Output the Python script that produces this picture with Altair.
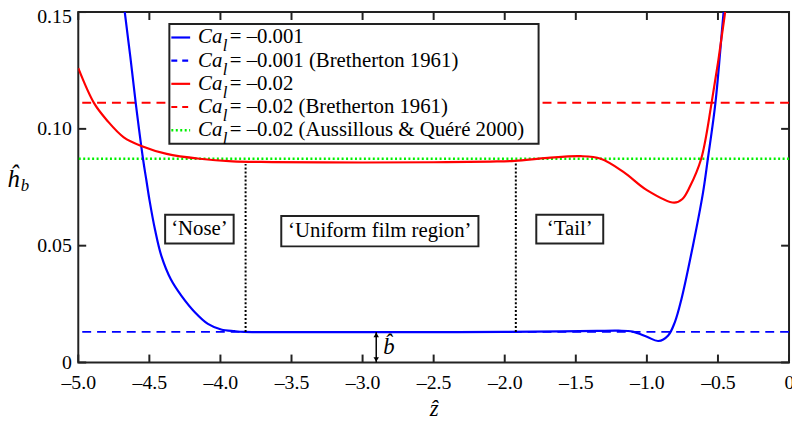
import altair as alt
import pandas as pd

FONT = "'Liberation Serif', 'Times New Roman', Times, serif"

# ---------------- data ----------------
blue_z = [-4.685, -4.673, -4.634, -4.596, -4.544, -4.521, -4.499, -4.460, -4.415, -4.349,
          -4.274, -4.180, -4.088, -3.995, -3.900, -3.832, -3.5, -3.0, -2.5, -2.0,
          -1.6, -1.35, -1.20, -1.10, -1.0, -0.919, -0.85, -0.803, -0.757, -0.676,
          -0.606, -0.571, -0.518, -0.46, -0.445]
blue_h = [0.157, 0.150, 0.1309, 0.1111, 0.0869, 0.0780, 0.0695, 0.0568, 0.0455, 0.0356,
          0.0285, 0.0215, 0.0165, 0.0141, 0.0134, 0.0131, 0.0130, 0.0130, 0.0130, 0.0131,
          0.0133, 0.0135, 0.0136, 0.0132, 0.0110, 0.0092, 0.0116, 0.0173, 0.0271, 0.050,
          0.0724, 0.0872, 0.111, 0.150, 0.158]

red_z = [-5.0, -4.889, -4.796, -4.68, -4.552, -4.378, -4.146, -3.914, -3.635, -3.0,
         -2.5, -2.1, -1.929, -1.697, -1.465, -1.325, -1.163, -1.0, -0.808, -0.75,
         -0.698, -0.618, -0.545, -0.455, -0.435]
red_h = [0.126, 0.111, 0.1035, 0.0964, 0.0926, 0.0893, 0.0872, 0.0861, 0.0858, 0.0856,
         0.0857, 0.0860, 0.0863, 0.0876, 0.0883, 0.0872, 0.0815, 0.0738, 0.0684, 0.0700,
         0.0752, 0.0872, 0.111, 0.1475, 0.158]

bretherton_001 = 0.0131
bretherton_02 = 0.1112
aussillous_02 = 0.0872

x_ticks = [-5.0, -4.5, -4.0, -3.5, -3.0, -2.5, -2.0, -1.5, -1.0, -0.5, 0.0]
y_ticks = [0.0, 0.05, 0.10, 0.15]

legend_rest = ["= \u20130.001", "= \u20130.001 (Bretherton 1961)", "= \u20130.02",
               "= \u20130.02 (Bretherton 1961)", "= \u20130.02 (Aussillous & Qu\u00e9r\u00e9 2000)"]

region_labels = ["\u2018Nose\u2019", "\u2018Uniform film region\u2019", "\u2018Tail\u2019"]
region_z = [-4.148, -2.879, -1.543]
region_h = [0.0572, 0.0563, 0.0572]
region_z1 = [-4.389, -3.572, -1.778]
region_z2 = [-3.907, -2.185, -1.307]
region_h1 = [0.0509, 0.0497, 0.0509]
region_h2 = [0.0632, 0.0627, 0.0632]

divider_z = [-3.823, -1.922]
divider_top = [0.0850, 0.0858]
arrow_z = -2.904

# ---------------- layout ----------------
W, H = 718, 354
XMIN, XMAX, YMIN, YMAX = -5.0, 0.0, 0.0, 0.15
px_x = (XMAX - XMIN) / W
px_y = (YMAX - YMIN) / H
TICK = 8

xs = alt.Scale(domain=[XMIN, XMAX], nice=False, zero=False)
ys = alt.Scale(domain=[YMIN, YMAX], nice=False, zero=False)

xaxis = alt.Axis(values=x_ticks, title="\u1e91", titleFontStyle="italic",
                 labelExpr="datum.value == 0 ? '0' : '\u2013' + format(abs(datum.value), '.1f')",
                 labelPadding=10, titlePadding=6, labelFlush=False)
yaxis = alt.Axis(values=y_ticks, title=None,
                 labelExpr="datum.value == 0 ? '0' : format(datum.value, '.2f')",
                 labelPadding=7, labelFlush=False,
                 labelOffset={"condition": {"test": "datum.value >= 0.149", "value": 5},
                              "value": 0})


def X(f):
    return alt.X(f, type="quantitative", scale=xs, axis=xaxis)


def Y(f):
    return alt.Y(f, type="quantitative", scale=ys, axis=yaxis)


one = pd.DataFrame({"a": [0]})
layers = []

# reference film thickness lines
hl = pd.DataFrame({"h": [bretherton_001, bretherton_02, aussillous_02],
                   "k": ["b", "r", "g"]})
layers.append(alt.Chart(hl[hl.k == "b"]).mark_rule(color="#0000ff", strokeWidth=2, strokeDash=[9, 6])
              .encode(y=Y("h")))
layers.append(alt.Chart(hl[hl.k == "r"]).mark_rule(color="#ff0000", strokeWidth=2, strokeDash=[9, 6])
              .encode(y=Y("h")))
layers.append(alt.Chart(hl[hl.k == "g"]).mark_rule(color="#00f000", strokeWidth=2.5, strokeDash=[2, 2.5])
              .encode(y=Y("h")))

# curves
bdf = pd.DataFrame({"z": blue_z, "h": blue_h})
rdf = pd.DataFrame({"z": red_z, "h": red_h})
layers.append(alt.Chart(bdf).mark_line(color="#0000ff", strokeWidth=2.2, interpolate="catmull-rom", clip=True)
              .encode(x=X("z"), y=Y("h")))
layers.append(alt.Chart(rdf).mark_line(color="#ff0000", strokeWidth=2.2, interpolate="catmull-rom", clip=True)
              .encode(x=X("z"), y=Y("h")))

# dotted dividers
dv = pd.DataFrame({"z": divider_z, "h0": [bretherton_001] * 2, "h1": divider_top})
layers.append(alt.Chart(dv).mark_rule(color="black", strokeWidth=2, strokeDash=[2, 2])
              .encode(x=X("z"), y=Y("h0"), y2="h1"))

# region boxes + text
rg = pd.DataFrame({"t": region_labels, "z": region_z, "h": region_h,
                   "z1": region_z1, "z2": region_z2, "h1": region_h1, "h2": region_h2})
layers.append(alt.Chart(rg).mark_rect(fill="white", stroke="#222", strokeWidth=2)
              .encode(x=X("z1"), x2="z2", y=Y("h1"), y2="h2"))
layers.append(alt.Chart(rg).mark_text(font=FONT, fontSize=21, color="black", baseline="middle", align="center")
              .encode(x=X("z"), y=Y("h"), text="t:N"))

# film thickness arrow
ar = pd.DataFrame({"z": [arrow_z], "h0": [0.0], "h1": [bretherton_001]})
layers.append(alt.Chart(ar).mark_rule(color="black", strokeWidth=1.5)
              .encode(x=X("z"), y=Y("h0"), y2="h1"))
layers.append(alt.Chart(ar).mark_point(shape="triangle-up", filled=True, color="black", size=30,
                                       opacity=1, yOffset=3)
              .encode(x=X("z"), y=Y("h1")))
layers.append(alt.Chart(ar).mark_point(shape="triangle-down", filled=True, color="black", size=30,
                                       opacity=1, yOffset=-3)
              .encode(x=X("z"), y=Y("h0")))
bl = pd.DataFrame({"z": [arrow_z + 0.05], "h": [bretherton_001 / 2], "t": ["b\u0302"]})
layers.append(alt.Chart(bl).mark_text(font=FONT, fontSize=23, fontStyle="italic", color="black",
                                      align="left", baseline="middle")
              .encode(x=X("z"), y=Y("h"), text="t:N"))

# inward ticks on all four sides
tb = pd.DataFrame({"z": x_ticks})
layers.append(alt.Chart(tb).transform_calculate(a="0", b=str(TICK * px_y))
              .mark_rule(color="#222", strokeWidth=2).encode(x=X("z"), y=Y("a:Q"), y2="b:Q"))
layers.append(alt.Chart(tb).transform_calculate(a=str(YMAX), b=str(YMAX - TICK * px_y))
              .mark_rule(color="#222", strokeWidth=2).encode(x=X("z"), y=Y("a:Q"), y2="b:Q"))
tl = pd.DataFrame({"h": y_ticks})
layers.append(alt.Chart(tl).transform_calculate(a=str(XMIN), b=str(XMIN + TICK * px_x))
              .mark_rule(color="#222", strokeWidth=2).encode(y=Y("h"), x=X("a:Q"), x2="b:Q"))
layers.append(alt.Chart(tl).transform_calculate(a=str(XMAX), b=str(XMAX - TICK * px_x))
              .mark_rule(color="#222", strokeWidth=2).encode(y=Y("h"), x=X("a:Q"), x2="b:Q"))

# y-axis title (h-hat with subscript b)
layers.append(alt.Chart(one).mark_text(text="\u0125", font=FONT, fontSize=25, fontStyle="italic",
                                       color="black", align="left", baseline="alphabetic")
              .encode(x=alt.value(-72), y=alt.value(177)))
layers.append(alt.Chart(one).mark_text(text="b", font=FONT, fontSize=17, fontStyle="italic",
                                       color="black", align="left", baseline="alphabetic")
              .encode(x=alt.value(-58), y=alt.value(181)))

# legend
LX0, LX1, LY0, LY1 = 92, 465, 12, 133
layers.append(alt.Chart(one).mark_rect(fill="white", stroke="#222", strokeWidth=2)
              .encode(x=alt.value(LX0), x2=alt.value(LX1), y=alt.value(LY0), y2=alt.value(LY1)))
styles = [("#0000ff", None, 2.2), ("#0000ff", [6, 5], 2.2), ("#ff0000", None, 2.2),
          ("#ff0000", [6, 5], 2.2), ("#00f000", [2, 2.5], 2.5)]
for i, (rest, (col, dash, sw)) in enumerate(zip(legend_rest, styles)):
    yy = 25.7 + i * 23.4
    kw = dict(color=col, strokeWidth=sw)
    if dash:
        kw["strokeDash"] = dash
    layers.append(alt.Chart(one).mark_rule(**kw)
                  .encode(x=alt.value(94), x2=alt.value(113), y=alt.value(yy)))
    layers.append(alt.Chart(one).mark_text(text="Ca", font=FONT, fontSize=21, fontStyle="italic",
                                           color="black", align="left", baseline="middle")
                  .encode(x=alt.value(121), y=alt.value(yy)))
    layers.append(alt.Chart(one).mark_text(text="l", font=FONT, fontSize=17, fontStyle="italic",
                                           color="black", align="left", baseline="middle")
                  .encode(x=alt.value(146), y=alt.value(yy + 9)))
    layers.append(alt.Chart(one).mark_text(text=rest, font=FONT, fontSize=21,
                                           color="black", align="left", baseline="middle")
                  .encode(x=alt.value(153), y=alt.value(yy)))

chart = (
    alt.layer(*layers)
    .properties(width=W, height=H,
                padding={"left": 71, "top": 2, "right": 3, "bottom": 56},
                autosize=alt.AutoSizeParams(type="none"))
    .configure_view(stroke="#222", strokeWidth=2)
    .configure_axis(labelFont=FONT, labelFontSize=20, labelColor="black", domain=False,
                    ticks=False, grid=False, titleFont=FONT, titleFontSize=23,
                    titleColor="black", titleFontWeight="normal")
)

chart.save("out.html", embed_options={"renderer": "svg", "actions": False})
